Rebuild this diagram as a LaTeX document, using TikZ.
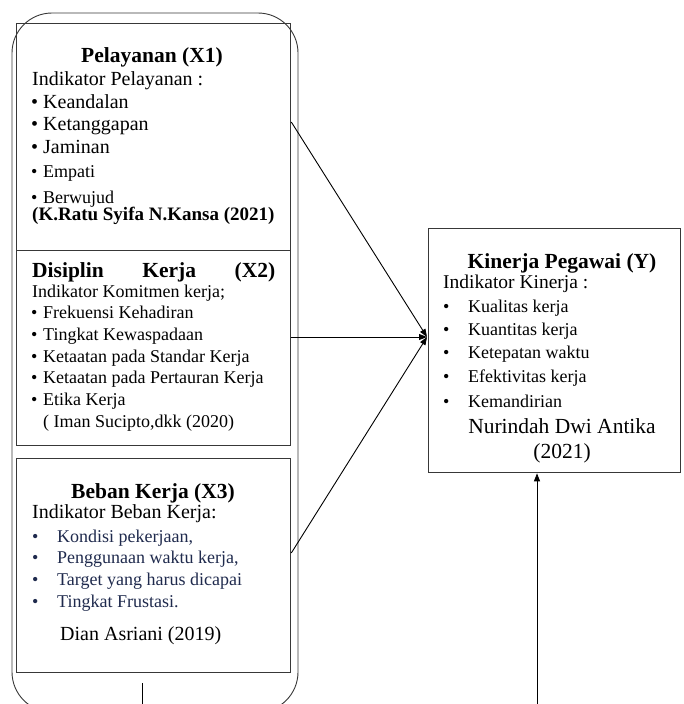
\documentclass[tikz,border=0pt]{standalone}
\usepackage{fontspec}
\setmainfont{Liberation Serif}
\usetikzlibrary{arrows.meta}
\definecolor{navy}{HTML}{1F2A4D}
\definecolor{edge}{HTML}{383838}
\newcommand{\bl}[1]{\makebox[#1][l]{\textbullet}}
\begin{document}
\begin{tikzpicture}[x=1pt,y=-1pt,
  ttl/.style={font=\fontsize{21.5}{24}\selectfont\bfseries, inner sep=0pt, anchor=base},
  nrm/.style={font=\fontsize{20}{24}\selectfont, inner sep=0pt, anchor=base west},
  sml/.style={font=\fontsize{18}{22}\selectfont, inner sep=0pt, anchor=base west},
  boxn/.style={draw=edge, line width=1.3pt, inner sep=0pt, anchor=north west},
  arr/.style={line width=0.9pt, -{Triangle[length=8pt,width=6pt]}}]
\useasboundingbox (0,0) rectangle (683,704);
\clip (0,0) rectangle (683,704);
% outer rounded frame
\draw[edge, line width=0.9pt, rounded corners=40pt] (12,13) rectangle (298,712);
% boxes
\node[boxn, minimum width=274pt, minimum height=227pt] (bx1) at (16,23) {};
\node[boxn, minimum width=274pt, minimum height=195pt] (bx2) at (16,250) {};
\node[boxn, minimum width=274pt, minimum height=214pt] (bx3) at (16,458) {};
\node[boxn, minimum width=252pt, minimum height=244pt] (by) at (428,228) {};
% X1 text
\node[ttl] (x1t) at (152,62) {Pelayanan (X1)};
\node[nrm] (x1i) at (32,85) {Indikator Pelayanan :};
\node[nrm] (x1a) at (31,108) {\bl{12pt}Keandalan};
\node[nrm] (x1b) at (31,130) {\bl{12pt}Ketanggapan};
\node[nrm] (x1c) at (31,153) {\bl{12pt}Jaminan};
\node[sml] (x1d) at (31,177) {\bl{12pt}Empati};
\node[sml] (x1e) at (31,203) {\bl{12pt}Berwujud};
\node[inner sep=0pt, anchor=base west, font=\fontsize{19}{22}\selectfont\bfseries] (x1r) at (32,220) {(K.Ratu Syifa N.Kansa (2021)};
% X2 text
\node[inner sep=0pt, anchor=base west, font=\fontsize{21.5}{24}\selectfont\bfseries] (x2t) at (32,277) {\makebox[243pt]{Disiplin\hfill Kerja\hfill (X2)}};
\node[sml] (x2i) at (32,297) {Indikator Komitmen kerja;};
\node[sml] (x2a) at (31,318) {\bl{12pt}Frekuensi Kehadiran};
\node[sml] (x2b) at (31,340) {\bl{12pt}Tingkat Kewaspadaan};
\node[sml] (x2c) at (31,362) {\bl{12pt}Ketaatan pada Standar Kerja};
\node[sml] (x2d) at (31,383) {\bl{12pt}Ketaatan pada Pertauran Kerja};
\node[sml] (x2e) at (31,405) {\bl{12pt}Etika Kerja};
\node[sml] (x2r) at (43,427) {( Iman Sucipto,dkk (2020)};
% X3 text
\node[ttl] (x3t) at (153,498) {Beban Kerja (X3)};
\node[nrm] (x3i) at (32,518) {Indikator Beban Kerja:};
\node[sml, text=navy] (x3a) at (32,542) {\bl{25pt}Kondisi pekerjaan,};
\node[sml, text=navy] (x3b) at (32,563) {\bl{25pt}Penggunaan waktu kerja,};
\node[sml, text=navy] (x3c) at (32,585) {\bl{25pt}Target yang harus dicapai};
\node[sml, text=navy] (x3d) at (32,607) {\bl{25pt}Tingkat Frustasi.};
\node[nrm] (x3r) at (60,640) {Dian Asriani (2019)};
% Y text
\node[ttl] (yt) at (562,268) {Kinerja Pegawai (Y)};
\node[inner sep=0pt, anchor=base west, font=\fontsize{19.5}{23}\selectfont] (yi) at (443,288) {Indikator Kinerja :};
\node[sml] (ya) at (443,312) {\bl{25pt}Kualitas kerja};
\node[sml] (yb) at (443,335) {\bl{25pt}Kuantitas kerja};
\node[sml] (yc) at (443,358) {\bl{25pt}Ketepatan waktu};
\node[sml] (yd) at (443,382) {\bl{25pt}Efektivitas kerja};
\node[sml] (ye) at (443,407) {\bl{25pt}Kemandirian};
\node[inner sep=0pt, anchor=base, font=\fontsize{21.5}{24}\selectfont] (yr1) at (562,433) {Nurindah Dwi Antika};
\node[inner sep=0pt, anchor=base, font=\fontsize{21.5}{24}\selectfont] (yr2) at (562,458) {(2021)};
% connectors
\coordinate (s1) at (bx1.east |- 0,122);
\coordinate (s2) at (bx2.east |- 0,337);
\coordinate (s3) at (bx3.east |- 0,553);
\coordinate (tip) at (427,337);
\draw[arr] (s1) -- (tip);
\draw[arr] (s2) -- (tip);
\draw[arr] (s3) -- (tip);
\coordinate (b1) at (537,710);
\coordinate (t1) at (by.south -| 537,0);
\draw[arr] (b1) -- (t1);
\coordinate (l1) at (142,683);
\coordinate (l2) at (142,710);
\draw[line width=0.9pt] (l1) -- (l2);
\end{tikzpicture}
\end{document}
